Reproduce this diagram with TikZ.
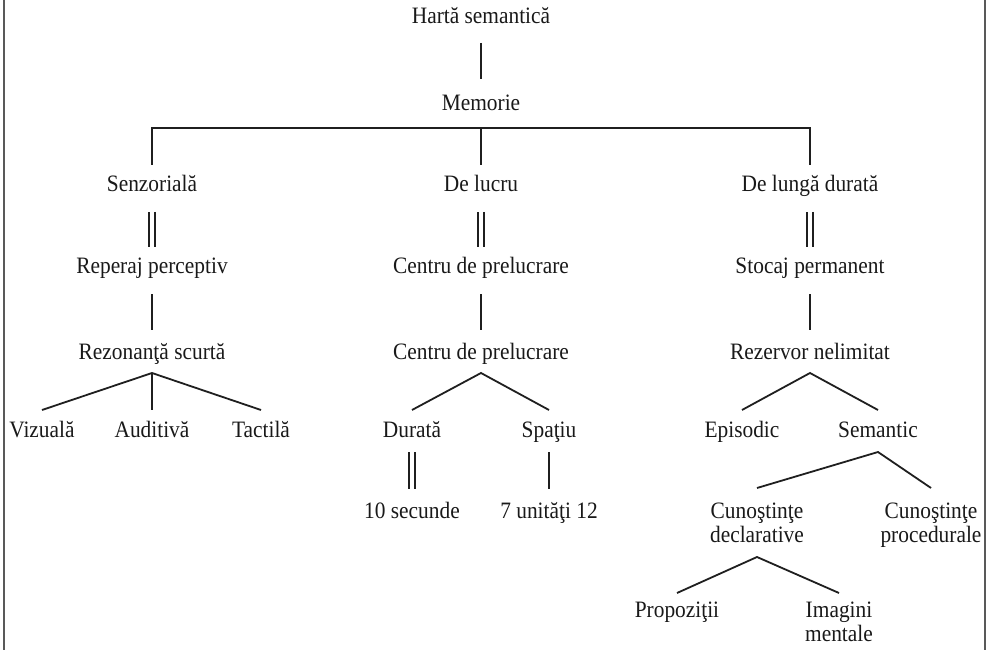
\documentclass[tikz,border=0pt]{standalone}
\usepackage{fontspec}
\setmainfont{Liberation Serif}[FakeStretch=0.91]
\usetikzlibrary{calc}
\begin{document}
\begin{tikzpicture}[x=1pt,y=-1pt,
  lbl/.style={inner sep=0pt, outer sep=0pt, anchor=base, align=center,
    font=\fontsize{23.5}{23.5}\selectfont, text=black!90},
  link/.style={line width=1.8pt, draw=black!88},
  dlink/.style={link, double=white, double distance=4.2pt, line width=1.6pt},
  frame/.style={line width=1.5pt, draw=black!65}]
\useasboundingbox (0,0) rectangle (989,650);

% side rules of the frame
\draw[frame] (4,0) -- (4,650);
\draw[frame] (985,0) -- (985,650);

% labels, placed by their (last) baselines
\node[lbl] (hs)    at (481,24)  {Hartă semantică};
\node[lbl] (mem)   at (481,111) {Memorie};
\node[lbl] (sen)   at (152,192) {Senzorială};
\node[lbl] (lucru) at (481,192) {De lucru};
\node[lbl] (lunga) at (810,192) {De lungă durată};
\node[lbl] (rep)   at (152,273) {Reperaj perceptiv};
\node[lbl] (cena)  at (481,273) {Centru de prelucrare};
\node[lbl] (sto)   at (810,273) {Stocaj permanent};
\node[lbl] (rez)   at (152,359) {Rezonanţă scurtă};
\node[lbl] (cenb)  at (481,359) {Centru de prelucrare};
\node[lbl] (rnl)   at (810,359) {Rezervor nelimitat};
\node[lbl] (viz)   at (42,437)  {Vizuală};
\node[lbl] (aud)   at (152,437) {Auditivă};
\node[lbl] (tac)   at (261,437) {Tactilă};
\node[lbl] (dur)   at (412,437) {Durată};
\node[lbl] (spa)   at (549,437) {Spaţiu};
\node[lbl] (epi)   at (742,437) {Episodic};
\node[lbl] (sem)   at (878,437) {Semantic};
\node[lbl] (sec)   at (412,518) {10 secunde};
\node[lbl] (uni)   at (549,518) {7 unităţi 12};
\node[lbl] (cd)    at (757,542) {Cunoştinţe\\declarative};
\node[lbl] (cp)    at (931,542) {Cunoştinţe\\procedurale};
\node[lbl] (pro)   at (677,617) {Propoziţii};
\node[lbl] (img)   at (839,641) {Imagini\\mentale};

% trunk
\draw[link] ($(hs.base)+(0,19)$) -- ($(mem.base)+(0,-32)$);
\draw[link] ($(sen.base)+(0,-27)$) |- ($(lunga.base)+(0,-64)$) -- ($(lunga.base)+(0,-27)$);
\draw[link] ($(mem.base)+(0,17)$) -- ($(lucru.base)+(0,-27)$);

% double links
\draw[dlink] ($(sen.base)+(0,20)$)   -- ($(rep.base)+(0,-26)$);
\draw[dlink] ($(lucru.base)+(0,20)$) -- ($(cena.base)+(0,-26)$);
\draw[dlink] ($(lunga.base)+(0,20)$) -- ($(sto.base)+(0,-26)$);
\draw[dlink] ($(dur.base)+(0,15)$)   -- ($(sec.base)+(0,-29)$);

% single links
\draw[link] ($(rep.base)+(0,21)$)  -- ($(rez.base)+(0,-29)$);
\draw[link] ($(cena.base)+(0,21)$) -- ($(cenb.base)+(0,-29)$);
\draw[link] ($(sto.base)+(0,21)$)  -- ($(rnl.base)+(0,-29)$);
\draw[link] ($(spa.base)+(0,15)$)  -- ($(uni.base)+(0,-29)$);

% branching points
\coordinate (brez) at ($(rez.base)+(0,14)$);
\coordinate (bcen) at ($(cenb.base)+(0,14)$);
\coordinate (brnl) at ($(rnl.base)+(0,14)$);
\coordinate (bsem) at ($(sem.base)+(0,15)$);
\coordinate (bcd)  at ($(cd.base)+(0,15)$);

\draw[link] ($(viz.base)+(0,-27)$) -- (brez) -- ($(tac.base)+(0,-27)$);
\draw[link] (brez) -- ($(aud.base)+(0,-27)$);
\draw[link] ($(dur.base)+(0,-27)$) -- (bcen) -- ($(spa.base)+(0,-27)$);
\draw[link] ($(epi.base)+(0,-27)$) -- (brnl) -- ($(sem.base)+(0,-27)$);
\draw[link] ($(cd.base)+(0,-54)$) -- (bsem) -- ($(cp.base)+(0,-54)$);
\draw[link] ($(pro.base)+(0,-24)$) -- (bcd) -- ($(img.base)+(0,-48)$);
\end{tikzpicture}
\end{document}
